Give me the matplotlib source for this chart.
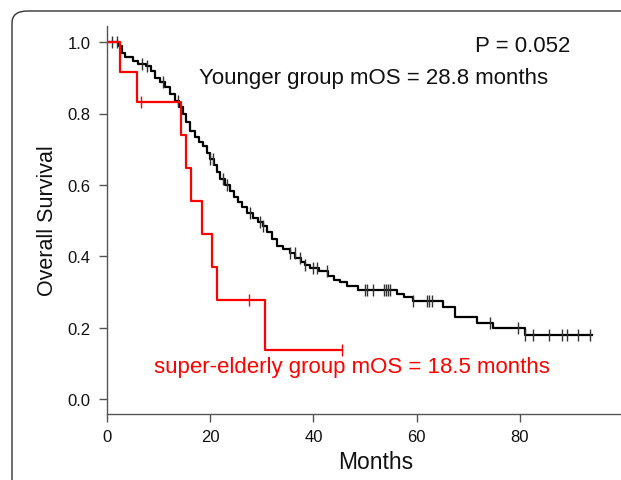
import matplotlib
matplotlib.use("Agg")
import matplotlib.pyplot as plt
from matplotlib.patches import FancyBboxPatch
import numpy as np

plt.rcParams['font.family'] = ['Liberation Sans', 'DejaVu Sans']

# Younger group: step drop times (months) and survival after each drop
young_t = [0, 2.3, 3.0, 3.5, 5.0, 6.0, 7.5, 8.5, 9.3, 10.2, 11.2, 12.2, 13.2, 14.0, 14.7,
           15.4, 16.1, 17.0, 17.8, 18.6, 19.3, 20.0, 20.8, 21.4, 21.9, 22.8, 23.8, 24.6,
           25.3, 26.1, 27.2, 28.3, 29.2, 30.2, 31.0, 31.9, 33.0, 34.2, 35.5, 36.5, 37.6,
           38.4, 39.3, 41.0, 42.8, 44.0, 45.2, 46.5, 48.6, 56.2, 57.5, 59.3, 65.1, 67.4,
           71.7, 74.8, 81.0]
young_s = [1.0, 0.99, 0.97, 0.958, 0.948, 0.94, 0.932, 0.92, 0.90, 0.888, 0.874, 0.855,
           0.835, 0.818, 0.80, 0.775, 0.75, 0.735, 0.72, 0.71, 0.69, 0.672, 0.655, 0.635,
           0.616, 0.60, 0.583, 0.567, 0.552, 0.538, 0.522, 0.507, 0.495, 0.485, 0.468,
           0.45, 0.43, 0.42, 0.41, 0.395, 0.385, 0.375, 0.367, 0.36, 0.345, 0.335, 0.328,
           0.317, 0.305, 0.294, 0.285, 0.275, 0.258, 0.23, 0.213, 0.199, 0.179]
young_end = 94.0
young_censor = [1.0, 1.9, 6.8, 7.8, 10.9, 13.8, 20.0, 20.6, 22.5, 23.2, 27.7, 29.7, 30.2,
                35.5, 36.4, 37.4, 38.4, 40.0, 40.7, 42.6, 50.0, 50.4, 51.6, 53.7, 54.0,
                54.5, 54.8, 59.3, 62.0, 62.4, 63.0, 74.2, 79.7, 81.0, 82.6, 85.7, 88.2,
                89.1, 91.3, 93.6]

# Super-elderly group
old_t = [0, 2.5, 5.8, 14.3, 15.4, 16.2, 18.4, 20.3, 21.4, 30.6]
old_s = [1.0, 0.917, 0.833, 0.741, 0.648, 0.556, 0.463, 0.370, 0.278, 0.139]
old_end = 45.5
old_censor = [6.5, 27.5, 45.5]

x_ticks = [0, 20, 40, 60, 80]
y_ticks = [0.0, 0.2, 0.4, 0.6, 0.8, 1.0]

fig = plt.figure(figsize=(6.21, 4.81), dpi=100)

# article frame
frame = FancyBboxPatch((12/621, 0.0 - 0.05), 1.2, (481-12)/481 + 0.05,
                       boxstyle="round,pad=0,rounding_size=0.025",
                       transform=fig.transFigure, fill=False, edgecolor='#333333',
                       linewidth=1.0, clip_on=False)
fig.patches.append(frame)

ax = fig.add_axes([107/621, 66.5/481, (621-107)/621, (414.5-27)/481])

def surv_at(ts, ss, x):
    idx = np.searchsorted(ts, x, side='right') - 1
    return np.array(ss)[idx]

ax.step(young_t + [young_end], young_s + [young_s[-1]], where='post', color='black', lw=1.6)
ax.plot(young_censor, surv_at(young_t, young_s, young_censor), linestyle='none',
        marker='|', markersize=8, mew=1.0, color='#333333')
ax.step(old_t + [old_end], old_s + [old_s[-1]], where='post', color='#ff0000', lw=1.6)
ax.plot(old_censor, surv_at(old_t, old_s, old_censor), linestyle='none',
        marker='|', markersize=8, mew=1.0, color='#ff0000')

ax.set_xlim(0, 99.6)
ax.set_ylim(-0.04, 1.045)
ax.set_xticks(x_ticks)
ax.set_yticks(y_ticks)
ax.set_yticklabels([f"{v:.1f}" for v in y_ticks])
for s in ['top', 'right']:
    ax.spines[s].set_visible(False)
for s in ['left', 'bottom']:
    ax.spines[s].set_color('#555555')
    ax.spines[s].set_linewidth(1.0)
ax.tick_params(axis='both', colors='#555555', labelcolor='#111111', labelsize=12,
               length=5.8, width=1.0)
ax.tick_params(axis='y', pad=6)
ax.tick_params(axis='x', pad=5.5)
ax.set_xlabel('Months', fontsize=16.5, color='#111111', va='center')
ax.xaxis.set_label_coords((376-107)/514, (414.5-463)/387.5)
ax.set_ylabel('Overall Survival', fontsize=15.5, color='#111111', va='center')
ax.yaxis.set_label_coords((48-107)/514, 0.5)

ax.text(80.6, 0.989, 'P = 0.052', fontsize=16, ha='center', va='center', color='#111111')
ax.text(51.6, 0.902, 'Younger group mOS = 28.8 months', fontsize=16, ha='center',
        va='center', color='#111111')
ax.text(47.5, 0.092, 'super-elderly group mOS = 18.5 months', fontsize=16, ha='center',
        va='center', color='#ff0000')

fig.savefig('out.png', dpi=100)
